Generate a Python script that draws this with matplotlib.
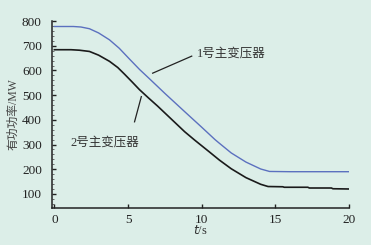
import matplotlib
matplotlib.use("Agg")
import matplotlib.pyplot as plt
from matplotlib.ticker import MultipleLocator

# 1号主变压器
t_1 = [0, 1.29, 1.8, 2.38, 3, 3.74, 4.4, 5.1, 5.78, 6.46, 7.5, 8.9, 10, 10.9, 11.2,
       12, 13, 14, 14.6, 16, 18, 20]
p_1 = [778, 778, 776, 769, 752, 724, 690, 646, 604, 566, 507, 430, 370, 320, 305,
       266, 229, 201, 191, 190, 190, 190]

# 2号主变压器
t_2 = [0, 1.13, 1.7, 2.38, 3, 3.74, 4.3, 4.76, 5.3, 5.78, 6.4, 7, 8.84, 9.52, 10.5, 11.2,
       12, 13, 14, 14.5, 15.5, 15.6, 17.2, 17.3, 18.8, 18.9, 20]
p_2 = [684, 684, 682, 677, 662, 637, 612, 585, 552, 522, 488, 456, 352, 318, 271, 237,
       202, 166, 139, 130, 129, 127, 127, 124, 124, 121, 120]

x_ticks = [0, 5, 10, 15, 20]
y_ticks = [100, 200, 300, 400, 500, 600, 700, 800]

# labels and their leader lines (t, P)
label_1 = "1号主变压器"
label_2 = "2号主变压器"
lead_1 = ([6.67, 9.32], [589, 658])
lead_2 = ([5.44, 5.9], [392, 494])

bg = "#dceee8"
fonts = ["Liberation Serif", "Noto Sans CJK SC"]
plt.rcParams["font.family"] = fonts

fig = plt.figure(figsize=(3.71, 2.45), dpi=100, facecolor=bg)
ax = fig.add_axes([0.139, 0.151, 0.802, 0.763], facecolor=bg)

ax.plot(t_1, p_1, color="#5b70bf", lw=1.0)
ax.plot(t_2, p_2, color="#1a1a1a", lw=1.2)

# leader lines
ax.plot(*lead_1, color="#222222", lw=0.9)
ax.plot(*lead_2, color="#222222", lw=0.9)
ax.text(9.7, 668, label_1, fontsize=9, color="#333333", va="center", ha="left")
ax.text(3.4, 306, label_2, fontsize=9, color="#333333", va="center", ha="center")

ax.set_xlim(-0.19, 20)
ax.set_ylim(43, 800)
ax.set_xticks(x_ticks)
ax.set_yticks(y_ticks)
ax.yaxis.set_minor_locator(MultipleLocator(20))

for s in ["top", "right"]:
    ax.spines[s].set_visible(False)
for s in ["left", "bottom"]:
    ax.spines[s].set_linewidth(1.1)
    ax.spines[s].set_color("#222222")

ax.tick_params(axis="both", which="major", direction="in", length=3, width=1,
               labelsize=9.5, colors="#222222", pad=4)
ax.tick_params(axis="y", which="major", pad=7)
ax.tick_params(axis="y", which="minor", direction="in", length=1.2, width=0.6, colors="#555555")

ax.set_ylabel("有功功率/MW", fontsize=8.5, color="#444444", labelpad=2)
ax.set_xlabel("$t$/s", fontsize=9, color="#333333", labelpad=-1)

fig.savefig("out.png", dpi=100, facecolor=bg)
